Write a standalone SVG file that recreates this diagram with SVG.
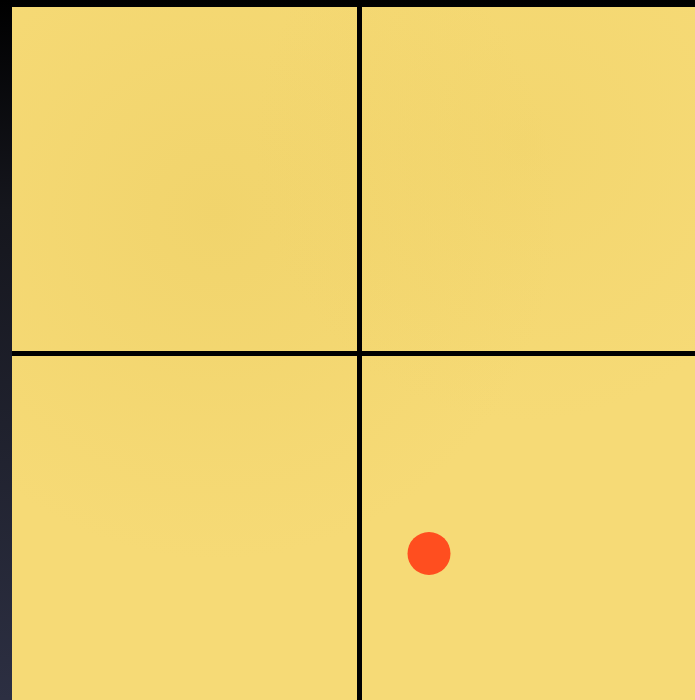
<svg xmlns="http://www.w3.org/2000/svg" width="695" height="700" viewBox="0 0 695 700">
<defs>
<linearGradient id="bg" x1="0" y1="0" x2="0" y2="1">
<stop offset="0" stop-color="#000000"/>
<stop offset="0.3" stop-color="#15161d"/>
<stop offset="1" stop-color="#2c2f42"/>
</linearGradient>
<radialGradient id="tex1" cx="0.3" cy="0.3" r="0.5">
<stop offset="0" stop-color="#e8c95a" stop-opacity="0.35"/>
<stop offset="1" stop-color="#e8c95a" stop-opacity="0"/>
</radialGradient>
<radialGradient id="tex2" cx="0.75" cy="0.2" r="0.4">
<stop offset="0" stop-color="#eccd5e" stop-opacity="0.3"/>
<stop offset="1" stop-color="#eccd5e" stop-opacity="0"/>
</radialGradient>
<style>
.grid{stroke:#000;stroke-width:5;fill:none}
</style>
</defs>
<rect x="0" y="0" width="695" height="700" fill="url(#bg)"/>
<g id="panel">
<rect x="12" y="7" width="683" height="693" fill="#f6da76"/>
<rect x="12" y="7" width="683" height="693" fill="url(#tex1)"/>
<rect x="12" y="7" width="683" height="693" fill="url(#tex2)"/>
</g>
<g id="gridlines">
<line class="grid" x1="359.5" y1="7" x2="359.5" y2="700"/>
<line class="grid" x1="12" y1="353.5" x2="695" y2="353.5"/>
</g>
<g id="dot">
<circle cx="429" cy="553.5" r="21.5" fill="#ff4e1f"/>
</g>
</svg>
